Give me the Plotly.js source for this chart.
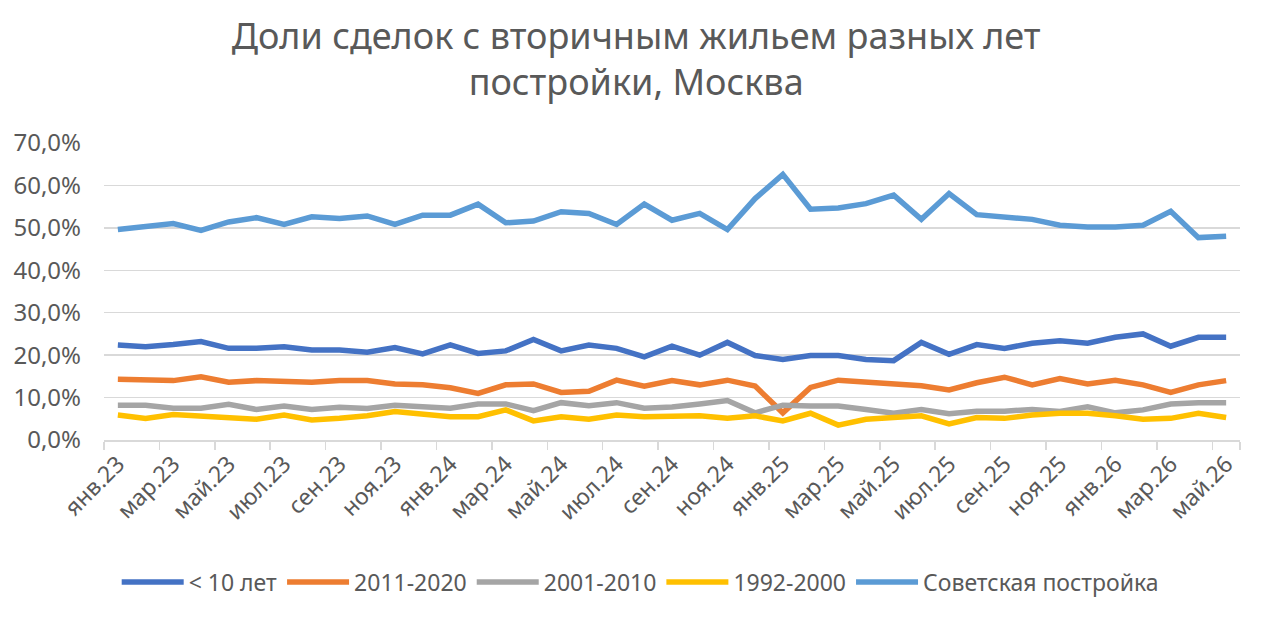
<!DOCTYPE html>
<html>
<head>
<meta charset="utf-8">
<script src="https://cdn.plot.ly/plotly-3.0.1.min.js"></script>
<style>html,body{margin:0;padding:0;background:#fff;}#chart{width:1280px;height:623px;}</style>
</head>
<body>
<div id="chart"></div>
<script>
const months = [
  "янв.23","фев.23","мар.23","апр.23","май.23","июн.23","июл.23","авг.23","сен.23","окт.23","ноя.23","дек.23",
  "янв.24","фев.24","мар.24","апр.24","май.24","июн.24","июл.24","авг.24","сен.24","окт.24","ноя.24","дек.24",
  "янв.25","фев.25","мар.25","апр.25","май.25","июн.25","июл.25","авг.25","сен.25","окт.25","ноя.25","дек.25",
  "янв.26","фев.26","мар.26","апр.26","май.26"
];
const tickLabels = months.filter((m, i) => i % 2 === 0);

const under10 = [22.4,22.0,22.5,23.2,21.6,21.6,22.0,21.2,21.2,20.7,21.8,20.3,22.4,20.4,21.0,23.7,21.0,22.4,21.6,19.6,22.1,20.0,23.0,19.9,19.0,19.9,19.9,19.0,18.7,23.0,20.2,22.5,21.6,22.8,23.4,22.8,24.2,25.0,22.1,24.2,24.2];
const y2011_2020 = [14.3,14.3,14.0,14.9,13.6,14.0,13.7,13.6,14.0,14.0,13.2,13.0,12.3,11.0,13.0,13.2,11.2,11.5,14.1,12.7,14.0,13.0,14.1,12.7,6.4,12.4,14.1,13.6,13.2,12.8,11.8,13.5,14.8,13.0,14.5,13.2,14.1,13.0,11.2,13.0,14.0];
const y2001_2010 = [8.2,8.2,7.5,7.5,8.4,7.2,8.0,7.2,7.7,7.4,8.2,8.0,7.5,8.5,8.5,6.9,8.8,8.1,8.8,7.5,7.8,8.5,9.3,6.4,8.2,8.0,8.0,7.2,6.3,7.2,6.2,6.8,6.8,7.2,6.7,7.8,6.4,7.1,8.5,8.8,8.8];
const y1992_2000 = [5.9,5.1,6.0,5.7,5.1,4.9,5.9,4.7,5.1,5.7,6.7,6.1,5.5,5.5,7.1,4.5,5.5,4.9,5.9,5.5,5.7,5.7,5.1,5.7,4.5,6.3,3.5,4.9,5.3,5.7,3.8,5.3,5.1,5.9,6.3,6.3,5.7,4.9,5.1,6.3,5.3];
const soviet = [49.6,50.4,51.0,49.4,51.4,52.4,50.8,52.6,52.2,52.8,50.8,53.0,53.0,55.6,51.2,51.6,53.8,53.4,50.8,55.6,51.8,53.4,49.6,56.9,62.6,54.4,54.7,55.7,57.7,52.0,58.1,53.1,52.4,52.0,50.6,50.2,50.2,50.6,53.9,47.7,48.0];

const seriesNames = ["< 10 лет","2011-2020","2001-2010","1992-2000","Советская постройка"];
const seriesData = [under10, y2011_2020, y2001_2010, y1992_2000, soviet];
const seriesColors = ["#4472C4","#ED7D31","#A5A5A5","#FFC000","#5B9BD5"];

const FONT = "Noto Sans, Open Sans, sans-serif";
const GREY = "#595959";

const traces = seriesData.map((vals, k) => ({
  type: "scatter",
  mode: "lines",
  name: seriesNames[k],
  x: months,
  y: vals,
  line: {color: seriesColors[k], width: 5.5, shape: "linear"},
  hoverinfo: "x+y+name"
}));

const layout = {
  width: 1280,
  height: 623,
  paper_bgcolor: "#ffffff",
  plot_bgcolor: "#ffffff",
  separators: ", ",
  margin: {l: 104, r: 40, t: 143, b: 183},
  title: {
    text: "Доли сделок с вторичным жильем разных лет<br>постройки, Москва",
    font: {family: FONT, size: 36, color: GREY},
    x: 0.497, xanchor: "center",
    xref: "container",
    yref: "container",
    y: 0.922, yanchor: "top"
  },
  xaxis: {
    type: "category",
    range: [-0.5, 40.5],
    tickmode: "array",
    tickvals: tickLabels,
    ticktext: tickLabels,
    tickson: "boundaries",
    ticks: "outside",
    ticklen: 8,
    tickcolor: "#D9D9D9",
    tickwidth: 1.5,
    tickangle: -45,
    tickfont: {family: FONT, size: 23, color: GREY},
    showgrid: false,
    showline: true,
    linecolor: "#D9D9D9",
    linewidth: 1.5,
    zeroline: false,
    fixedrange: true
  },
  yaxis: {
    range: [0, 70],
    tickmode: "linear",
    tick0: 0,
    dtick: 10,
    tickformat: ".1f",
    ticksuffix: "%",
    tickfont: {family: FONT, size: 24, color: GREY},
    showgrid: true,
    gridcolor: "#D9D9D9",
    gridwidth: 1.5,
    zeroline: false,
    showline: false,
    ticks: "",
    ticklabelstandoff: 22,
    fixedrange: true
  },
  showlegend: true,
  legend: {
    orientation: "h",
    x: 0.472, xanchor: "center",
    y: -0.478, yanchor: "middle",
    font: {family: FONT, size: 23, color: GREY},
    itemwidth: 62,
    traceorder: "normal"
  }
};

Plotly.newPlot("chart", traces, layout, {displayModeBar: false, staticPlot: true});
</script>
</body>
</html>
